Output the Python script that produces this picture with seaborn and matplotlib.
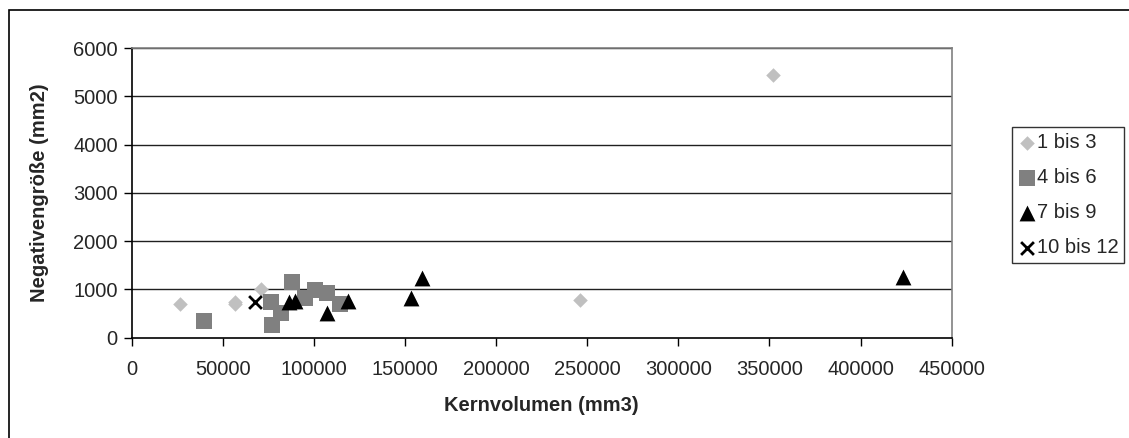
import numpy as np
import pandas as pd
import matplotlib
matplotlib.use('Agg')
import matplotlib.pyplot as plt
from matplotlib.patches import Rectangle
import seaborn as sns

# values
group_names = ['1 bis 3', '4 bis 6', '7 bis 9', '10 bis 12']

x_1_3 = [26600, 56500, 57000, 71000, 246000, 351800]
y_1_3 = [690, 745, 695, 1002, 780, 5445]

x_4_6 = [39700, 76300, 77200, 81800, 87800, 95100, 100800, 107000, 114300]
y_4_6 = [345, 740, 263, 505, 1160, 815, 988, 925, 700]

x_7_9 = [86300, 89600, 107000, 118900, 153600, 159100, 423300]
y_7_9 = [745, 766, 505, 766, 816, 1230, 1250]

x_10_12 = [67700]
y_10_12 = [733]

x_ticks = [0, 50000, 100000, 150000, 200000, 250000, 300000, 350000, 400000, 450000]
y_ticks = [0, 1000, 2000, 3000, 4000, 5000, 6000]

df = pd.concat([
    pd.DataFrame({'x': x_1_3, 'y': y_1_3, 'group': group_names[0]}),
    pd.DataFrame({'x': x_4_6, 'y': y_4_6, 'group': group_names[1]}),
    pd.DataFrame({'x': x_7_9, 'y': y_7_9, 'group': group_names[2]}),
    pd.DataFrame({'x': x_10_12, 'y': y_10_12, 'group': group_names[3]}),
], ignore_index=True)

styles = {
    '1 bis 3': dict(marker='D', color='#c0c0c0', s=55, linewidth=0),
    '4 bis 6': dict(marker='s', color='#808080', s=125, linewidth=0),
    '7 bis 9': dict(marker='^', color='#000000', s=130, linewidth=0),
    '10 bis 12': dict(marker='x', color='#000000', s=85, linewidth=2),
}

FS = 14.5

sns.set_style('white')
plt.rcParams['font.family'] = ['Liberation Sans', 'DejaVu Sans']

fig = plt.figure(figsize=(11.29, 4.38), dpi=100)
ax = fig.add_axes([0.1165, 0.229, 0.7265, 0.661])

for g in group_names:
    sub = df[df['group'] == g]
    st = styles[g]
    sns.scatterplot(data=sub, x='x', y='y', ax=ax, marker=st['marker'],
                    color=st['color'], s=st['s'], linewidth=st['linewidth'],
                    edgecolor=st['color'] if st['marker'] != 'x' else None,
                    label=g, zorder=3)

ax.set_xlim(0, 450000)
ax.set_ylim(0, 6000)
ax.set_xticks(x_ticks)
ax.set_yticks(y_ticks)
ax.set_xticklabels([str(t) for t in x_ticks], fontsize=FS)
ax.set_yticklabels([str(t) for t in y_ticks], fontsize=FS)
ax.tick_params(axis='both', direction='out', length=6, width=1, color='black',
               left=True, bottom=True)
ax.tick_params(axis='y', pad=4)
ax.tick_params(axis='x', pad=10)

for yv in y_ticks[1:]:
    ax.axhline(yv, color='#202020', linewidth=1, zorder=1)

ax.spines['left'].set_color('black')
ax.spines['bottom'].set_color('black')
ax.spines['top'].set_color('#808080')
ax.spines['right'].set_color('#808080')
for sp in ax.spines.values():
    sp.set_linewidth(1.2)

ax.set_xlabel('Kernvolumen (mm3)', fontsize=FS, fontweight='bold', labelpad=12)
ax.set_ylabel('Negativengröße (mm2)', fontsize=FS, fontweight='bold', labelpad=17)

leg = ax.legend(loc='upper left', bbox_to_anchor=(0.896, 1 - 127 / 438),
                bbox_transform=fig.transFigure, frameon=True, fancybox=False,
                fontsize=FS, handletextpad=0.05, labelspacing=0.8,
                borderpad=0.3, handlelength=0.9, borderaxespad=0)
leg.get_frame().set_edgecolor('black')
leg.get_frame().set_linewidth(1)

# outer chart frame (right and bottom edges fall outside the picture)
fig.patches.append(Rectangle((0.008, -0.2), 1.2, 1.2 - 10 / 438, transform=fig.transFigure,
                             fill=False, edgecolor='black', linewidth=1.2))

fig.savefig('out.png', dpi=100)
